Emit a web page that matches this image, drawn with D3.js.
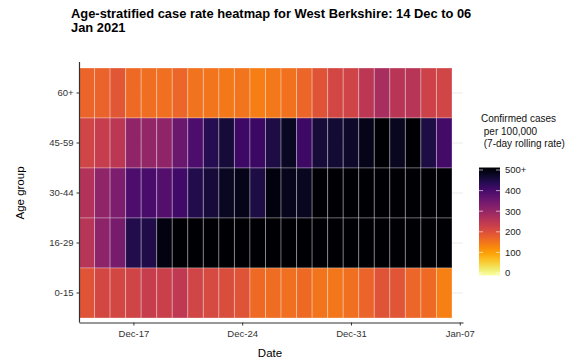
<html>
<head>
	<script src="https://d3js.org/d3.v7.min.js"></script>
	<style>
		body { margin: 0; background: #fff; }
		text { font-family: "Liberation Sans", Arial, sans-serif; }
	</style>
</head>
<body>
	<script>
		// data
		var dates = ["2020-12-14","2020-12-15","2020-12-16","2020-12-17","2020-12-18","2020-12-19",
			"2020-12-20","2020-12-21","2020-12-22","2020-12-23","2020-12-24","2020-12-25",
			"2020-12-26","2020-12-27","2020-12-28","2020-12-29","2020-12-30","2020-12-31",
			"2021-01-01","2021-01-02","2021-01-03","2021-01-04","2021-01-05","2021-01-06"];
		var ageGroups = ["60+", "45-59", "30-44", "16-29", "0-15"];
		var rate60 = [172,174,192,165,162,160,170,156,153,150,154,142,149,157,170,197,218,222,250,275,252,255,225,220];
		var rate45 = [220,235,250,305,300,305,350,385,430,450,405,408,440,470,405,450,455,462,478,520,472,520,440,398];
		var rate30 = [260,305,330,385,390,378,400,435,450,470,478,440,488,475,472,530,540,550,560,570,575,580,585,590];
		var rate16 = [255,308,335,435,437,485,520,560,600,640,660,680,690,700,700,690,690,700,710,720,700,690,680,670];
		var rate00 = [197,215,216,222,235,230,245,220,212,207,197,166,164,159,165,154,151,159,172,197,194,170,165,140];
		var legendTicks = [0, 100, 200, 300, 400, 500];
		var xTicks = ["2020-12-17", "2020-12-24", "2020-12-31", "2021-01-07"];

		var rates = { "60+": rate60, "45-59": rate45, "30-44": rate30, "16-29": rate16, "0-15": rate00 };
		var parse = d3.timeParse("%Y-%m-%d");

		var cells = [];
		ageGroups.forEach(function(g) {
			dates.forEach(function(d, i) {
				cells.push({ age: g, date: parse(d), value: rates[g][i] });
			});
		});

		var width = 585, height = 362;
		var svg = d3.select("body").append("svg")
			.attr("width", width)
			.attr("height", height);

		var xScale = d3.scaleTime()
			.domain([new Date(2020, 11, 13, 12), new Date(2021, 0, 7, 5)])
			.range([79, 463]);
		var yScale = d3.scaleBand().domain(ageGroups).range([68, 318]);
		var colorScale = function(v) { return d3.interpolateInferno(1 - Math.min(v, 500) / 500); };

		// grid lines
		svg.append("g").selectAll("line").data(ageGroups)
			.enter().append("line")
			.attr("x1", 79).attr("x2", 463)
			.attr("y1", function(d) { return yScale(d) + yScale.bandwidth() / 2; })
			.attr("y2", function(d) { return yScale(d) + yScale.bandwidth() / 2; })
			.attr("stroke", "#ebebeb").attr("stroke-width", 1);

		var dayW = xScale(new Date(2020, 11, 15)) - xScale(new Date(2020, 11, 14));

		svg.append("g").selectAll("rect").data(cells)
			.enter().append("rect")
			.attr("x", function(d) { return xScale(d.date) - dayW / 2; })
			.attr("y", function(d) { return yScale(d.age); })
			.attr("width", dayW)
			.attr("height", yScale.bandwidth())
			.attr("fill", function(d) { return colorScale(d.value); })
			.attr("stroke", "rgba(255,255,255,0.3)")
			.attr("stroke-width", 1);

		// axes
		var xAxis = d3.axisBottom(xScale)
			.tickValues(xTicks.map(parse))
			.tickFormat(d3.timeFormat("%b-%d"))
			.tickSizeInner(3).tickSizeOuter(0);
		var xAxisG = svg.append("g").attr("transform", "translate(0,322.5)").call(xAxis);

		var yAxis = d3.axisLeft(yScale).tickSizeInner(3).tickSizeOuter(0);
		var yAxisG = svg.append("g").attr("transform", "translate(79.5,0)").call(yAxis);
		yAxisG.select(".domain").attr("d", "M0,62V322.5");

		[xAxisG, yAxisG].forEach(function(a) {
			a.select(".domain").attr("stroke", "#333").attr("stroke-width", 1.2);
			a.selectAll(".tick line").attr("stroke", "#333");
			a.selectAll(".tick text").attr("fill", "#333").style("font-size", "9.5px");
		});
		xAxisG.selectAll(".tick text").attr("dy", "0.9em");

		// titles
		svg.append("text").attr("x", 71).attr("y", 18)
			.style("font-weight", "bold").style("font-size", "12.9px")
			.text("Age-stratified case rate heatmap for West Berkshire: 14 Dec to 06");
		svg.append("text").attr("x", 71).attr("y", 32)
			.style("font-weight", "bold").style("font-size", "12.9px")
			.text("Jan 2021");
		svg.append("text").attr("x", 270).attr("y", 357)
			.attr("text-anchor", "middle").style("font-size", "11.5px")
			.text("Date");
		svg.append("text")
			.attr("transform", "translate(24,193) rotate(-90)")
			.attr("text-anchor", "middle").style("font-size", "11.5px")
			.text("Age group");

		// legend
		var legY = d3.scaleLinear().domain([0, 500]).range([273, 170]);
		var defs = svg.append("defs");
		var grad = defs.append("linearGradient").attr("id", "leg")
			.attr("x1", 0).attr("x2", 0).attr("y1", 1).attr("y2", 0);
		d3.range(0, 1.01, 0.05).forEach(function(t) {
			grad.append("stop").attr("offset", t).attr("stop-color", d3.interpolateInferno(1 - t));
		});
		svg.append("rect").attr("x", 479).attr("y", legY(512))
			.attr("width", 21).attr("height", legY(-12) - legY(512))
			.attr("fill", "url(#leg)");
		var lt = svg.append("g").selectAll("g").data(legendTicks).enter().append("g");
		lt.append("line").attr("x1", 479).attr("x2", 483)
			.attr("y1", function(d) { return legY(d); }).attr("y2", function(d) { return legY(d); })
			.attr("stroke", "rgba(255,255,255,0.6)");
		lt.append("line").attr("x1", 496).attr("x2", 500)
			.attr("y1", function(d) { return legY(d); }).attr("y2", function(d) { return legY(d); })
			.attr("stroke", "rgba(255,255,255,0.6)");
		lt.append("text").attr("x", 505)
			.attr("y", function(d) { return legY(d); })
			.attr("dy", "0.35em").style("font-size", "9.5px").attr("fill", "#222")
			.text(function(d) { return d === 500 ? "500+" : d; });

		var legTitle = ["Confirmed cases", " per 100,000", " (7-day rolling rate)"];
		svg.append("g").selectAll("text").data(legTitle).enter().append("text")
			.attr("x", 481).attr("y", function(d, i) { return 122 + i * 12.5; })
			.attr("xml:space", "preserve")
			.style("font-size", "10px").attr("fill", "#111")
			.text(function(d) { return d; });
	</script>
</body>
</html>
